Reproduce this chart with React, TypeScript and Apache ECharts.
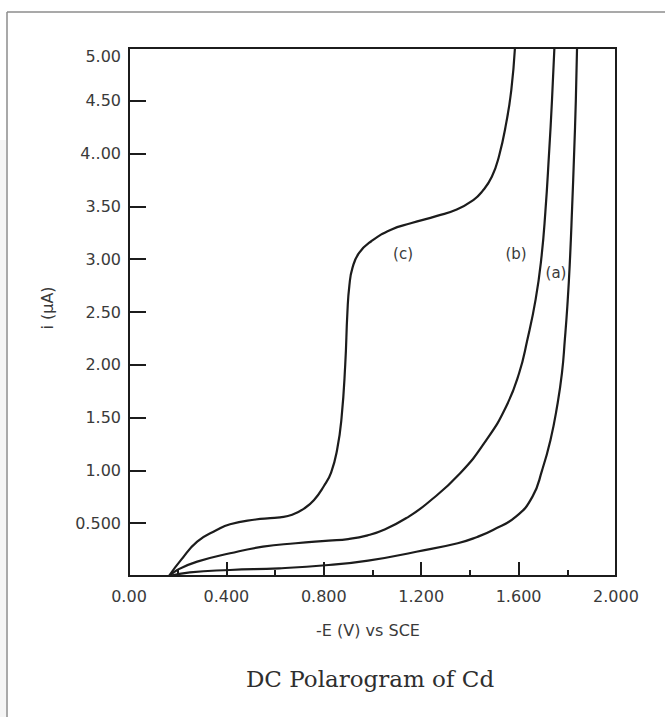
import React, { useEffect, useRef } from "react";
import * as echarts from "echarts";

// Potential (-E, V vs SCE) and current (i, µA) for the three polarograms
const curveA: [number, number][] = [
  [0.165, 0], [0.25, 0.035], [0.415, 0.057], [0.617, 0.073], [0.82, 0.104],
  [0.982, 0.145], [1.18, 0.23], [1.35, 0.31], [1.43, 0.37], [1.495, 0.436],
  [1.589, 0.562], [1.657, 0.752], [1.697, 1.005], [1.731, 1.289], [1.758, 1.605],
  [1.778, 1.92], [1.79, 2.24], [1.80, 2.55], [1.81, 2.95], [1.82, 3.5],
  [1.828, 4.0], [1.835, 4.5], [1.84, 5.0],
];

const curveB: [number, number][] = [
  [0.165, 0], [0.2, 0.06], [0.28, 0.136], [0.415, 0.215], [0.55, 0.278],
  [0.685, 0.31], [0.82, 0.335], [0.9, 0.35], [0.98, 0.385], [1.05, 0.44],
  [1.14, 0.55], [1.225, 0.689], [1.36, 0.973], [1.468, 1.289], [1.549, 1.605],
  [1.602, 1.92], [1.636, 2.237], [1.67, 2.62], [1.693, 3.0], [1.71, 3.45],
  [1.725, 4.0], [1.737, 4.5], [1.747, 5.0],
];

const curveC: [number, number][] = [
  [0.164, 0], [0.213, 0.15], [0.28, 0.325], [0.36, 0.435], [0.415, 0.49],
  [0.52, 0.535], [0.58, 0.548], [0.62, 0.555], [0.67, 0.58], [0.72, 0.64],
  [0.76, 0.72], [0.8, 0.85], [0.83, 0.98], [0.855, 1.2], [0.873, 1.5],
  [0.888, 2.0], [0.897, 2.5], [0.905, 2.75], [0.918, 2.92], [0.945, 3.06],
  [0.995, 3.17], [1.076, 3.28], [1.157, 3.34], [1.265, 3.41], [1.346, 3.47],
  [1.414, 3.56], [1.45, 3.64], [1.49, 3.78], [1.52, 3.98], [1.55, 4.3],
  [1.57, 4.6], [1.585, 5.0],
];

const xTickLabels = ["0.00", "0.400", "0.800", "1.200", "1.600", "2.000"];
const yTickLabels = ["", "0.500", "1.00", "1.50", "2.00", "2.50", "3.00", "3.50", "4..00", "4.50", "5.00"];

const curveNames = ["(a)", "(b)", "(c)"];

const SANS = "DejaVu Sans";
const SERIF = "DejaVu Serif";
const INK = "#1c1c1c";
const LABEL = "#3a3a3a";

export default function App() {
  const ref = useRef<HTMLDivElement>(null);

  useEffect(() => {
    if (!ref.current) return;
    const chart = echarts.init(ref.current, null, { renderer: "svg" });

    const lineSeries = (name: string, data: [number, number][]) => ({
      name,
      type: "line",
      data,
      showSymbol: false,
      smooth: 0.5,
      lineStyle: { color: INK, width: 2.2 },
      silent: true,
    });

    chart.setOption({
      animation: false,
      backgroundColor: "#ffffff",
      grid: {
        left: 129,
        top: 48,
        width: 487,
        height: 528,
        show: true,
        borderColor: INK,
        borderWidth: 2,
        backgroundColor: "transparent",
      },
      xAxis: {
        type: "value",
        min: 0,
        max: 2,
        interval: 0.4,
        axisLine: { lineStyle: { color: INK, width: 2 } },
        axisTick: { inside: true, length: 14, lineStyle: { color: INK, width: 2 } },
        minorTick: { show: true, splitNumber: 2, length: 6, lineStyle: { color: INK, width: 2 } },
        splitLine: { show: false },
        minorSplitLine: { show: false },
        axisLabel: {
          margin: 12,
          fontFamily: SANS,
          fontSize: 16,
          color: LABEL,
          formatter: (v: number) => xTickLabels[Math.round(v / 0.4)] ?? "",
        },
      },
      yAxis: {
        type: "value",
        min: 0,
        max: 5,
        interval: 0.5,
        axisLine: { show: true, lineStyle: { color: INK, width: 2 } },
        axisTick: { show: true, inside: true, length: 17, lineStyle: { color: INK, width: 2 } },
        splitLine: { show: false },
        axisLabel: {
          margin: 8,
          fontFamily: SANS,
          fontSize: 16,
          color: LABEL,
          formatter: (v: number) => {
            const idx = Math.round(v / 0.5);
            const t = yTickLabels[idx] ?? "";
            return idx === 10 ? `{top|${t}}` : t;
          },
          rich: {
            top: { padding: [16, 0, 0, 0], fontFamily: SANS, fontSize: 16, color: LABEL },
          },
        },
      },
      series: [
        lineSeries(curveNames[0], curveA),
        lineSeries(curveNames[1], curveB),
        lineSeries(curveNames[2], curveC),
      ],
      graphic: [
        // page frame
        { type: "rect", shape: { x: 0, y: 140, width: 6, height: 577 }, style: { fill: "#f5f5f5" }, silent: true },
        { type: "line", shape: { x1: 7, y1: 12, x2: 665, y2: 12 }, style: { stroke: "#8c8c8c", lineWidth: 1.5 }, silent: true },
        { type: "line", shape: { x1: 7, y1: 12, x2: 7, y2: 717 }, style: { stroke: "#8c8c8c", lineWidth: 1.5 }, silent: true },
        // curve tags
        { type: "text", x: 403, y: 254, style: { text: curveNames[2], font: `15px '${SANS}'`, fill: LABEL, align: "center", verticalAlign: "middle" } },
        { type: "text", x: 516, y: 254, style: { text: curveNames[1], font: `15px '${SANS}'`, fill: LABEL, align: "center", verticalAlign: "middle" } },
        { type: "text", x: 556, y: 273, style: { text: curveNames[0], font: `15px '${SANS}'`, fill: LABEL, align: "center", verticalAlign: "middle" } },
        // axis titles
        { type: "text", x: 368, y: 630, style: { text: "-E (V) vs SCE", font: `16px '${SANS}'`, fill: LABEL, align: "center", verticalAlign: "middle" } },
        { type: "text", x: 47, y: 308, rotation: Math.PI / 2, style: { text: "i (μA)", font: `16px '${SANS}'`, fill: LABEL, align: "center", verticalAlign: "middle" } },
        // caption
        { type: "text", x: 370, y: 679, style: { text: "DC Polarogram of Cd", font: `23px '${SERIF}'`, fill: "#2e2e2e", align: "center", verticalAlign: "middle" } },
      ],
    });

    return () => chart.dispose();
  }, []);

  return (
    <div
      ref={ref}
      style={{ position: "fixed", left: 0, top: 0, width: 665, height: 717, background: "#fff" }}
    />
  );
}
